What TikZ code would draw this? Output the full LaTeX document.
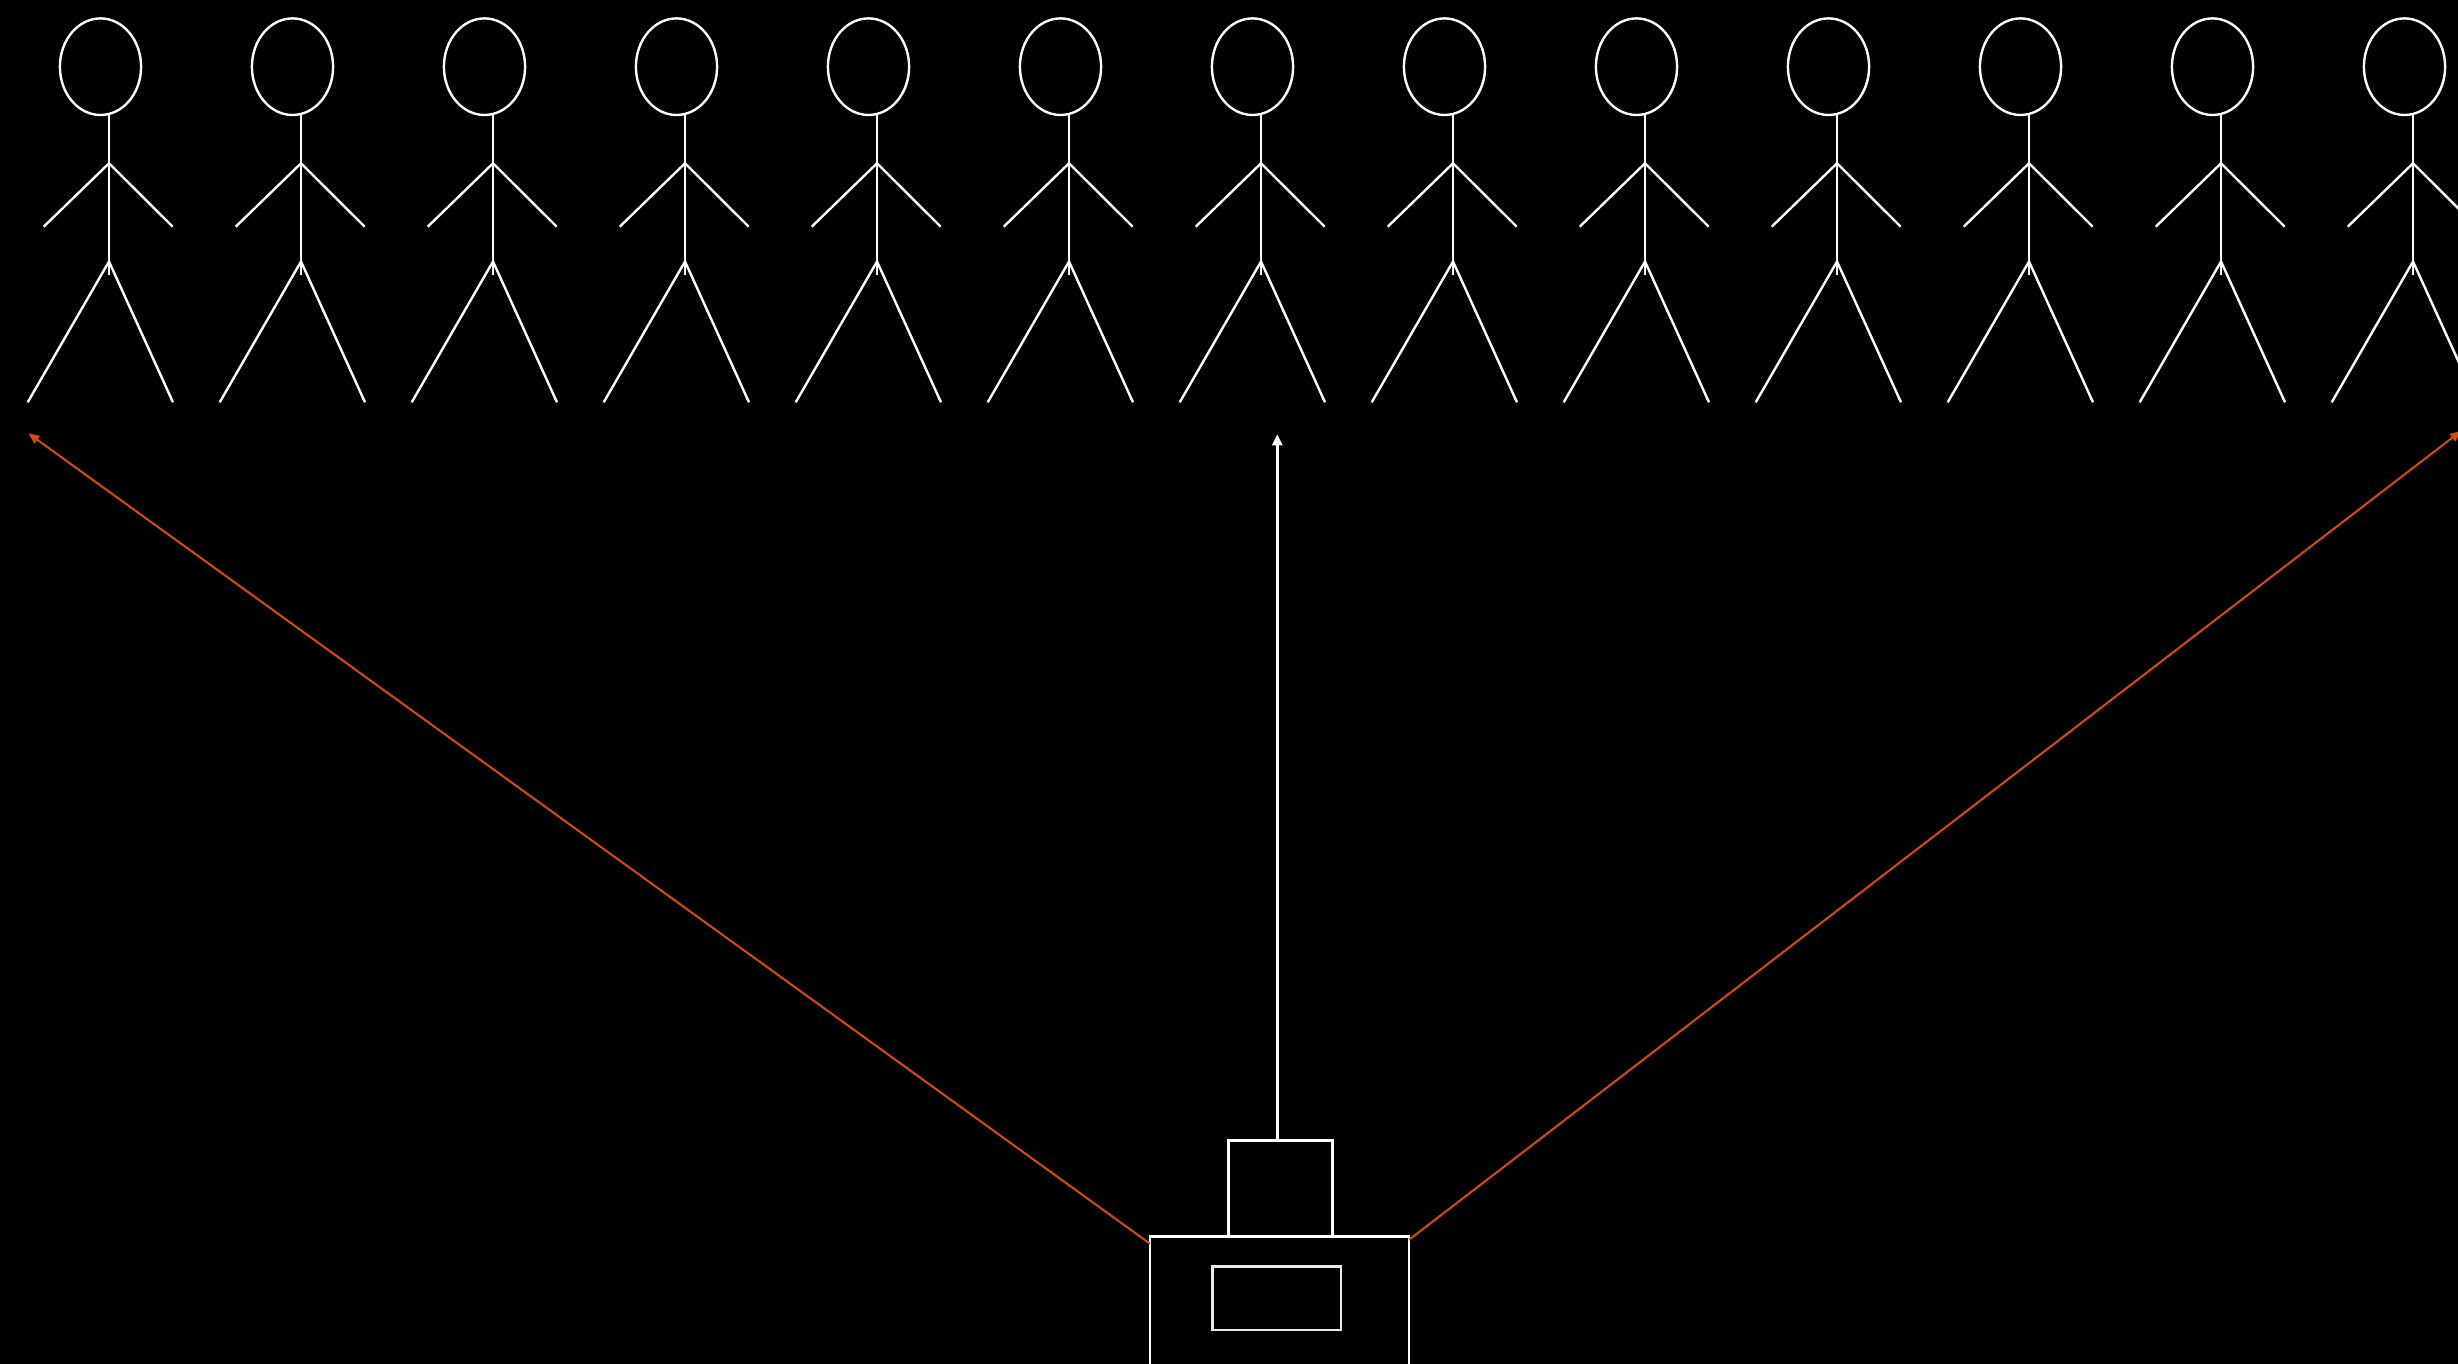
\documentclass[tikz,border=0pt]{standalone}
\usetikzlibrary{arrows.meta}
\definecolor{rayorange}{RGB}{214,76,12}
\tikzset{
  figline/.style={draw=white, line width=2.4pt},
  camline/.style={draw=white, line width=2.6pt},
  camrect/.style={camline, rectangle, inner sep=0pt, outer sep=0pt},
  sideray/.style={draw=rayorange, line width=2pt, -{Triangle[length=11pt,width=9pt]}},
  midray/.style={draw=white, line width=2.4pt, -{Triangle[length=11pt,width=10pt]}},
}
\begin{document}
\begin{tikzpicture}[x=1pt,y=-1pt]
  \useasboundingbox (0,0) rectangle (2458,1363);
  \clip (-20,-20) rectangle (2478,1383);
  \fill[black] (-20,-20) rectangle (2478,1383);

  % row of stick figures
  \foreach \i in {0,...,12}{
    \pgfmathsetmacro{\nx}{109+192*\i}
    \begin{scope}[shift={(\nx,0)}]
      \draw[figline] (-8.5,66.7) ellipse [x radius=40.6, y radius=48.3];
      \draw[figline] (0,115) -- (0,275);
      \draw[figline] (-65.3,226.7) -- (0,163.3) -- (63.7,226.7);
      \draw[figline] (-81.3,402.3) -- (0,261.5) -- (64,402.3);
    \end{scope}
  }

  % camera
  \node[camrect, minimum width=259pt, minimum height=180pt, anchor=north west] (body) at (1150,1236.7) {};
  \node[camrect, minimum width=103.6pt, minimum height=96.4pt, anchor=south west] (lens) at (1228.7,1236.7) {};
  \node[camrect, draw=white!92!black, minimum width=128.3pt, minimum height=63.3pt, anchor=north west] (screen) at (1212.7,1266.7) {};

  % ray targets
  \coordinate (leftend) at (28.3,433.3);
  \coordinate (midend) at (1277.3,434.3);
  \coordinate (rightend) at (2461,431);

  \draw[sideray] (body.north west) ++(0,7) -- (leftend);
  \draw[sideray] (body.north east) ++(0,3) -- (rightend);
  \draw[midray] (lens.north -| midend) -- (midend);
\end{tikzpicture}
\end{document}
